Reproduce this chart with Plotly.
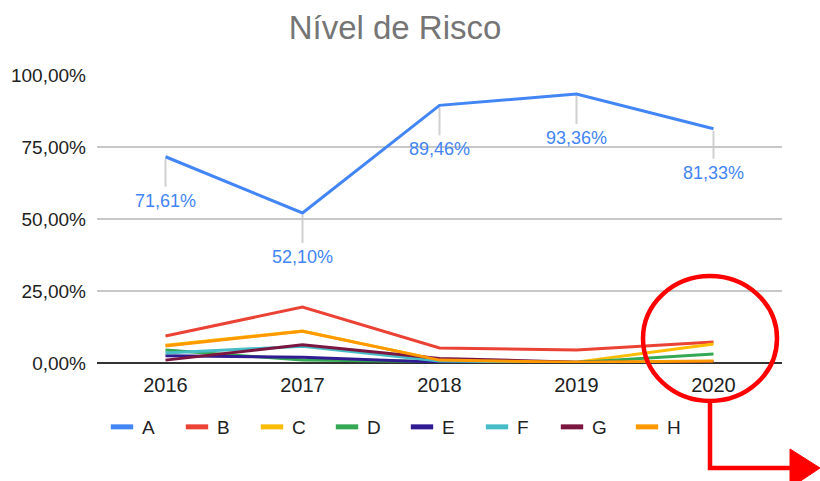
import plotly.graph_objects as go

years = ["2016", "2017", "2018", "2019", "2020"]
series_names = ["A", "B", "C", "D", "E", "F", "G", "H"]
A = [71.61, 52.10, 89.46, 93.36, 81.33]
B = [9.4, 19.4, 5.2, 4.5, 7.3]
C = [6.2, 11.1, 1.0, 0.3, 6.6]
D = [4.5, 1.0, 0.5, 0.2, 3.1]
E = [2.5, 2.0, 0.3, 0.1, 0.1]
F = [3.5, 5.8, 0.7, 0.2, 0.2]
G = [1.0, 6.3, 1.6, 0.3, 0.3]
H = [5.9, 11.0, 1.0, 0.3, 0.7]
yticks = [0, 25, 50, 75, 100]

colors = ["#4285F4", "#EA4335", "#FBBC04", "#34A853", "#311B92", "#46BDC6", "#7B1641", "#FF9900"]
values = [A, B, C, D, E, F, G, H]

PCT = chr(37)
FONT = "Arial, Liberation Sans, sans-serif"

def fmt(v):
    return f"{v:.2f}".replace(".", ",") + PCT

fig = go.Figure()
order = [1, 2, 3, 4, 5, 6, 7, 0]
for i in order:
    fig.add_trace(go.Scatter(
        x=years, y=values[i], name=series_names[i], mode="lines",
        line=dict(color=colors[i], width=3), showlegend=False, hoverinfo="skip",
    ))
# legend entries with short thick swatches
for i in range(8):
    fig.add_trace(go.Scatter(
        x=[None], y=[None], name=series_names[i], mode="markers",
        marker=dict(symbol="line-ew", size=20, color=colors[i],
                    line=dict(color=colors[i], width=6)),
        showlegend=True,
    ))

annotations = []
shapes = []
for k, v in enumerate(A):
    annotations.append(dict(
        x=k, y=v, xref="x", yref="y", text=fmt(v), showarrow=False,
        yshift=-44, xanchor="center", yanchor="middle",
        font=dict(size=18, color="#4285F4", family=FONT),
    ))
    shapes.append(dict(
        type="line", xref="x", yref="y", ysizemode="pixel", yanchor=v,
        x0=k, x1=k, y0=-2, y1=-30, line=dict(color="#d0d0d0", width=2),
        layer="below",
    ))

L, R, T, Bm = 97, 782, 75, 363
W, Hh = 820, 481
def px(x):
    return (x - L) / (R - L)
def py(y):
    return (Bm - y) / (Bm - T)

red = "#FF0000"
shapes += [
    dict(type="circle", xref="paper", yref="paper",
         x0=px(643), x1=px(777), y0=py(401), y1=py(276),
         line=dict(color=red, width=4.5)),
    dict(type="path", xref="paper", yref="paper",
         path=f"M {px(710):.4f},{py(401):.4f} L {px(710):.4f},{py(468):.4f} L {px(795):.4f},{py(468):.4f}",
         line=dict(color=red, width=4.5)),
    dict(type="path", xref="paper", yref="paper",
         path=f"M {px(790):.4f},{py(449):.4f} L {px(820):.4f},{py(468):.4f} L {px(790):.4f},{py(488):.4f} Z",
         fillcolor=red, line=dict(color=red, width=1)),
]

fig.update_layout(
    width=W, height=Hh,
    margin=dict(l=L, r=W - R, t=T, b=Hh - Bm, autoexpand=False),
    paper_bgcolor="white", plot_bgcolor="white",
    separators=",.",
    font=dict(family=FONT, size=16, color="#222222"),
    title=dict(text="Nível de Risco", x=395 / W, xref="container", xanchor="center",
               y=1 - 27 / Hh, yref="container", yanchor="middle",
               font=dict(size=33, color="#757575", family=FONT)),
    xaxis=dict(type="category", range=[-0.5, 4.5], showgrid=False,
               tickfont=dict(size=20, color="#222222"), ticks="", fixedrange=True,
               ticklabelstandoff=8),
    yaxis=dict(range=[0, 100], tickmode="array", tickvals=yticks,
               ticktext=[fmt(t) for t in yticks],
               showgrid=True, gridcolor="#c8c8c8", gridwidth=1.5,
               zeroline=True, zerolinecolor="#333333", zerolinewidth=1.5,
               tickfont=dict(size=19, color="#222222"), ticklabelstandoff=10,
               fixedrange=True),
    legend=dict(orientation="h", x=px(102), xanchor="left", y=py(427), yanchor="middle",
                entrywidth=30, entrywidthmode="pixels", font=dict(size=19, color="#222222"),
                traceorder="normal", bgcolor="rgba(0,0,0,0)"),
    annotations=annotations,
    shapes=shapes,
    showlegend=True,
)

fig.write_html("out.html", config={"displayModeBar": False},
               post_script="document.body.style.margin='0px';")
